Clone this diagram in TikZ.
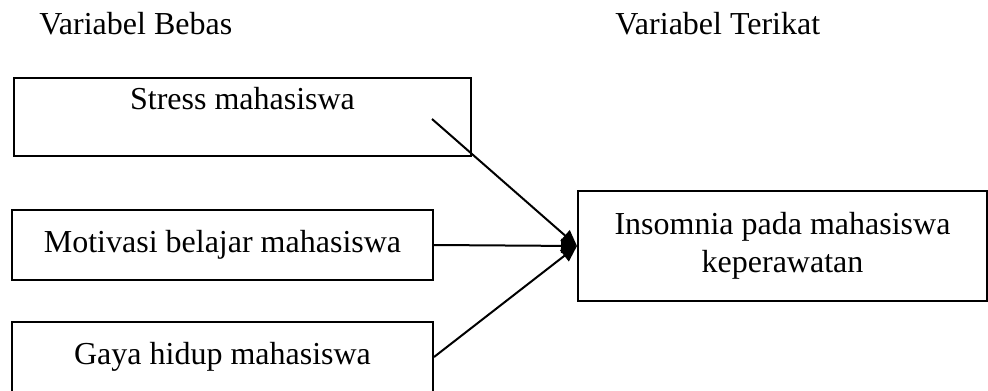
\documentclass[tikz,border=0pt]{standalone}
\usepackage{fontspec}
\setmainfont{Liberation Serif}
\usetikzlibrary{arrows.meta}
\tikzset{
  kotak/.style={draw, line width=1pt, inner sep=0pt, align=center, font=\fontsize{16}{19}\selectfont},
  judul/.style={anchor=base west, inner sep=0pt, font=\fontsize{16}{19}\selectfont},
  panah/.style={line width=1pt, -{Triangle[length=8pt,width=7pt]}}
}
\begin{document}
\begin{tikzpicture}[x=0.5pt, y=-0.5pt]
    \useasboundingbox (0,0) rectangle (988,390);
    % 見出し
    \node[judul] (bebas) at (39,35) {Variabel Bebas};
    \node[judul] (terikat) at (615,35) {Variabel Terikat};
    % 箱
    \node[kotak, minimum width=228.5pt, minimum height=39pt, text height=11pt, text depth=19pt] (stress) at (242.5,117) {Stress mahasiswa};
    \node[kotak, minimum width=210.5pt, minimum height=35pt, text height=11pt, text depth=3.5pt] (motivasi) at (222.5,245) {Motivasi belajar mahasiswa};
    \node[kotak, minimum width=210.5pt, minimum height=35pt, text height=11pt, text depth=3.5pt] (gaya) at (222.5,357) {Gaya hidup mahasiswa};
    \node[kotak, minimum width=204.5pt, minimum height=55pt] (insomnia) at (782.5,246) {Insomnia pada mahasiswa\\keperawatan};
    % 矢印
    \coordinate (s1) at (432,119);%箱の中から
    \draw[panah] (s1)--(insomnia.west);
    \draw[panah] (motivasi.east)--(insomnia.west);
    \draw[panah] (gaya.east)--(insomnia.west);
\end{tikzpicture}
\end{document}
